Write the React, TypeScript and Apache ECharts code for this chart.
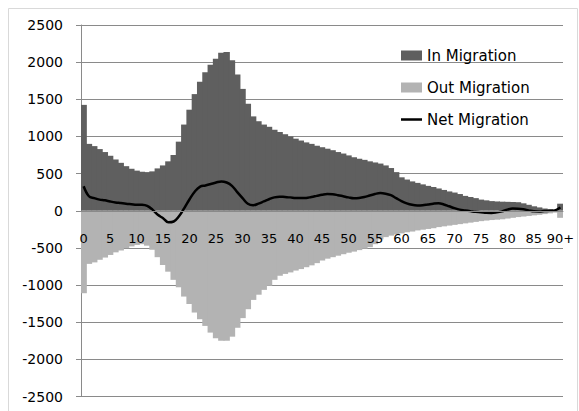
import React, { useEffect, useRef } from "react";
import * as echarts from "echarts";

const ages: string[] = [];
for (let i = 0; i < 90; i++) ages.push(String(i));
ages.push("90+");

const inMigration = [
  1425, 900, 870, 830, 790, 740, 690, 645, 600, 565,
  540, 525, 520, 530, 570, 610, 665, 750, 930, 1160,
  1360, 1570, 1735, 1865, 1965, 2045, 2125, 2135, 2025, 1835,
  1640, 1440, 1270, 1205, 1160, 1130, 1090, 1060, 1030, 1000,
  970, 945, 920, 900, 875, 855, 835, 815, 790, 770,
  745, 720, 700, 685, 665, 650, 635, 610, 575, 520,
  450, 420, 395, 375, 355, 335, 320, 300, 280, 260,
  245, 225, 200, 185, 170, 150, 140, 130, 125, 122,
  120, 118, 115, 100, 80, 60, 45, 30, 20, 15,
  95,
];

const outMigration = [
  -1110, -715, -695, -660, -630, -595, -560, -535, -505, -480,
  -460, -450, -470, -525, -625, -730, -820, -930, -1030, -1155,
  -1255, -1370, -1460, -1550, -1640, -1715, -1750, -1750, -1695, -1575,
  -1445, -1325, -1200, -1130, -1065, -1010, -930, -875, -850, -830,
  -805, -785, -760, -735, -705, -670, -645, -625, -605, -585,
  -565, -550, -530, -510, -490, -450, -385, -355, -335, -320,
  -305, -290, -280, -265, -255, -245, -235, -220, -210, -200,
  -190, -180, -170, -160, -150, -140, -132, -125, -120, -115,
  -105, -95, -85, -78, -70, -62, -55, -45, -35, -25,
  -95,
];

const netMigration = [
  330, 195, 170, 150, 140, 125, 112, 103, 94, 88,
  82, 80, 65, 15, -55, -100, -155, -145, -75, 35,
  155, 260, 325, 340, 360, 380, 395, 380, 335, 250,
  170, 95, 75, 95, 125, 155, 180, 190, 185, 180,
  172, 170, 172, 185, 200, 215, 225, 222, 210, 195,
  180, 168, 172, 185, 205, 225, 238, 230, 210, 170,
  130, 100, 80, 72, 75, 85, 95, 100, 85, 60,
  35, 15, 5, -5, -15, -20, -28, -30, -22, -8,
  15, 30, 28, 20, 5, -8, -10, -5, 0, 5,
  45,
];

const axisGray = "#8a8a8a";
const inColor = "#5f5f5f";
const outColor = "#b3b3b3";
const lineIcon =
  "path://M0,0 L0.01,0 L0,0 Z M0,3.8 L21,3.8 L21,6.2 L0,6.2 Z M0,10 L0.01,10 L0,10 Z";

export default function App() {
  const ref = useRef<HTMLDivElement>(null);
  useEffect(() => {
    if (!ref.current) return;
    const chart = echarts.init(ref.current, null, { renderer: "svg" });
    const plotTop = 25;
    const plotBottom = 14.5;
    const plotHeight = 411 - plotTop - plotBottom;
    chart.setOption({
      animation: false,
      backgroundColor: "#ffffff",
      textStyle: { fontFamily: "DejaVu Sans" },
      graphic: [
        {
          type: "rect",
          silent: true,
          z: -10,
          shape: { x: 8.5, y: 8.5, width: 569, height: 410 },
          style: { fill: "none", stroke: "#d9d9d9", lineWidth: 1 },
        },
      ],
      grid: {
        left: 81,
        right: 16,
        top: plotTop,
        bottom: plotBottom,
        containLabel: false,
        outerBoundsMode: "none",
      },
      legend: {
        orient: "vertical",
        left: 396,
        top: 43,
        itemWidth: 21,
        itemHeight: 10,
        itemGap: 17,
        textStyle: { fontSize: 15, color: "#000", fontFamily: "DejaVu Sans" },
        data: [
          { name: "In Migration", icon: "rect" },
          { name: "Out Migration", icon: "rect" },
          { name: "Net Migration", icon: lineIcon, itemStyle: { color: "#000" } },
        ],
      },
      xAxis: {
        type: "category",
        data: ages,
        position: "bottom",
        offset: -plotHeight / 2,
        axisLine: { onZero: false, lineStyle: { color: axisGray } },
        axisTick: { interval: 4, length: 5, lineStyle: { color: axisGray } },
        axisLabel: { interval: 4, margin: 21, fontSize: 13, color: "#000" },
        splitLine: { show: false },
        splitArea: { show: false },
        z: 10,
      },
      yAxis: {
        type: "value",
        min: -2500,
        max: 2500,
        interval: 500,
        axisLine: { show: true, lineStyle: { color: axisGray } },
        axisTick: { show: true, length: 5, lineStyle: { color: axisGray } },
        axisLabel: {
          margin: 18,
          fontSize: 14,
          color: "#000",
          formatter: (v: number) => String(v),
        },
        splitLine: { show: true, lineStyle: { color: axisGray, width: 1 } },
      },
      series: [
        {
          name: "In Migration",
          type: "bar",
          stack: "mig",
          data: inMigration,
          barWidth: 6.4,
          itemStyle: { color: inColor },
        },
        {
          name: "Out Migration",
          type: "bar",
          stack: "mig",
          data: outMigration,
          barWidth: 6.4,
          itemStyle: { color: outColor },
        },
        {
          name: "Net Migration",
          type: "line",
          data: netMigration,
          smooth: 0.4,
          symbol: "none",
          lineStyle: { color: "#000", width: 2.5 },
          itemStyle: { color: "#000" },
          z: 5,
        },
      ],
    });
    return () => chart.dispose();
  }, []);
  return (
    <div
      ref={ref}
      style={{ position: "absolute", left: 0, top: 0, width: 579, height: 411 }}
    />
  );
}
